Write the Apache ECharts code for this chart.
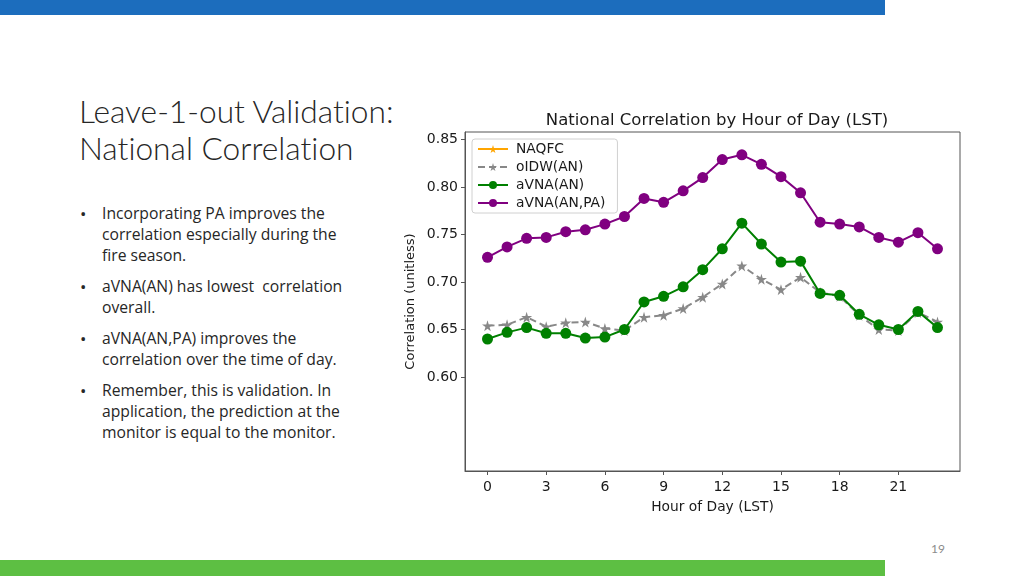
<!DOCTYPE html>
<html>
<head>
<meta charset="utf-8">
<script src="https://cdn.jsdelivr.net/npm/echarts@6/dist/echarts.min.js"></script>
<style>
  html, body { margin: 0; padding: 0; background: #fff; }
  #page { position: relative; width: 1024px; height: 576px; overflow: hidden; background: #fff; }
  #chart { position: absolute; left: 0; top: 0; width: 1024px; height: 576px; }
  .bar { position: absolute; left: 0; width: 885px; }
  #topbar { top: 0; height: 15px; background: #1c6dbd; }
  #botbar { top: 560px; height: 16px; background: #5dbf43; }
  #title { position: absolute; left: 79px; top: 93px; font-family: Lato, sans-serif; font-weight: 300;
           font-size: 31.7px; line-height: 37px; color: #262626; white-space: nowrap; font-variant-ligatures: none; }
  #bullets { position: absolute; left: 80px; top: 203px; width: 300px; font-family: "Open Sans", sans-serif;
             font-size: 15.7px; line-height: 21px; color: #262626; font-variant-ligatures: none; white-space: nowrap; }
  #bullets .b { position: relative; padding-left: 22px; margin-bottom: 10px; }
  #bullets .b::before { content: "\2022"; position: absolute; left: 0; top: 0; font-size: 17px; }
  #pnum { position: absolute; left: 931px; top: 541px; font-family: Lato, sans-serif; font-size: 12px; color: #8c8c8c; }
</style>
</head>
<body>
<div id="page">
  <div id="topbar" class="bar"></div>
  <div id="botbar" class="bar"></div>
  <div id="title">Leave-1-out Validation:<br>National Correlation</div>
  <div id="bullets">
    <div class="b">Incorporating PA improves the<br>correlation especially during the<br>fire season.</div>
    <div class="b">aVNA(AN) has lowest&nbsp; correlation<br>overall.</div>
    <div class="b">aVNA(AN,PA) improves the<br>correlation over the time of day.</div>
    <div class="b">Remember, this is validation. In<br>application, the prediction at the<br>monitor is equal to the monitor.</div>
  </div>
  <div id="pnum">19</div>
  <div id="chart"></div>
</div>
<script>
// ---- data ----
const hours = [0,1,2,3,4,5,6,7,8,9,10,11,12,13,14,15,16,17,18,19,20,21,22,23];
const naqfc = []; // NAQFC values are not visible within the plotted range
const oidwAN = [0.654,0.655,0.663,0.653,0.657,0.658,0.651,0.649,0.663,0.665,0.672,0.684,0.698,0.717,0.703,0.692,0.705,0.689,0.685,0.665,0.650,0.649,0.668,0.658];
const avnaAN = [0.640,0.647,0.652,0.646,0.646,0.641,0.642,0.650,0.679,0.685,0.695,0.713,0.735,0.762,0.740,0.721,0.722,0.688,0.686,0.666,0.655,0.650,0.669,0.652];
const avnaANPA = [0.726,0.737,0.746,0.747,0.753,0.755,0.761,0.769,0.788,0.784,0.796,0.810,0.829,0.834,0.824,0.811,0.794,0.763,0.761,0.758,0.747,0.742,0.752,0.735];
const xTicks = [0,3,6,9,12,15,18,21];
const yTicks = [0.60,0.65,0.70,0.75,0.80,0.85];
const seriesNames = ['NAQFC','oIDW(AN)','aVNA(AN)','aVNA(AN,PA)'];

const pairs = arr => arr.map((v, i) => [hours[i], v]);
const font = 'DejaVu Sans';
const star = 'path://M50,0 L61,35 L98,35 L68,57 L79,91 L50,70 L21,91 L32,57 L2,35 L39,35 Z';
const chart = echarts.init(document.getElementById('chart'), null, { renderer: 'canvas' });
chart.setOption({
  animation: false,
  backgroundColor: 'transparent',
  title: {
    text: 'National Correlation by Hour of Day (LST)',
    left: 712, top: 107, textAlign: 'center',
    textStyle: { fontFamily: font, fontSize: 16.5, fontWeight: 'normal', color: '#1a1a1a' }
  },
  grid: { left: 465, right: 64, top: 132, bottom: 105, show: true, borderColor: '#555', borderWidth: 1, backgroundColor: '#fff' },
  legend: {
    orient: 'vertical', left: 472, top: 139,
    data: seriesNames,
    itemWidth: 30, itemHeight: 10, itemGap: 4,
    padding: [3, 12, 3, 5],
    backgroundColor: '#fff', borderColor: '#d0d0d0', borderWidth: 1, borderRadius: 3,
    textStyle: { fontFamily: font, fontSize: 13.8, color: '#1a1a1a', padding: [0, 0, 0, 3] }
  },
  xAxis: {
    type: 'value', min: -1.15, max: 24.15,
    name: 'Hour of Day (LST)', nameLocation: 'middle', nameGap: 29,
    nameTextStyle: { fontFamily: font, fontSize: 13.8, color: '#1a1a1a' },
    axisLine: { show: true, onZero: false, lineStyle: { color: '#555' } },
    axisTick: { show: true, length: 4, customValues: xTicks, lineStyle: { color: '#555' } },
    axisLabel: { customValues: xTicks, fontFamily: font, fontSize: 14, color: '#1a1a1a', margin: 9 },
    splitLine: { show: false }
  },
  yAxis: {
    type: 'value', min: 0.501, max: 0.858,
    name: 'Correlation (unitless)', nameLocation: 'middle', nameGap: 48, nameRotate: 90,
    nameTextStyle: { fontFamily: font, fontSize: 13, color: '#1a1a1a' },
    axisLine: { show: true, onZero: false, lineStyle: { color: '#555' } },
    axisTick: { show: true, length: 4, customValues: yTicks, lineStyle: { color: '#555' } },
    axisLabel: { customValues: yTicks, fontFamily: font, fontSize: 14, color: '#1a1a1a', margin: 7,
                 formatter: v => v.toFixed(2) },
    splitLine: { show: false }
  },
  series: [
    { name: seriesNames[0], type: 'line', data: pairs(naqfc), color: '#ffa500',
      symbol: star, symbolSize: 11,
      lineStyle: { width: 2 }, itemStyle: { color: '#ffa500' } },
    { name: seriesNames[1], type: 'line', data: pairs(oidwAN), color: '#888888',
      symbol: star, symbolSize: 11,
      lineStyle: { width: 2, type: [7, 4], color: '#888888' }, itemStyle: { color: '#888888' }, z: 2 },
    { name: seriesNames[2], type: 'line', data: pairs(avnaAN), color: '#008000',
      symbol: 'circle', symbolSize: 11,
      lineStyle: { width: 2, color: '#008000' }, itemStyle: { color: '#008000' }, z: 3 },
    { name: seriesNames[3], type: 'line', data: pairs(avnaANPA), color: '#800080',
      symbol: 'circle', symbolSize: 11,
      lineStyle: { width: 2, color: '#800080' }, itemStyle: { color: '#800080' }, z: 4 }
  ]
});
</script>
</body>
</html>
